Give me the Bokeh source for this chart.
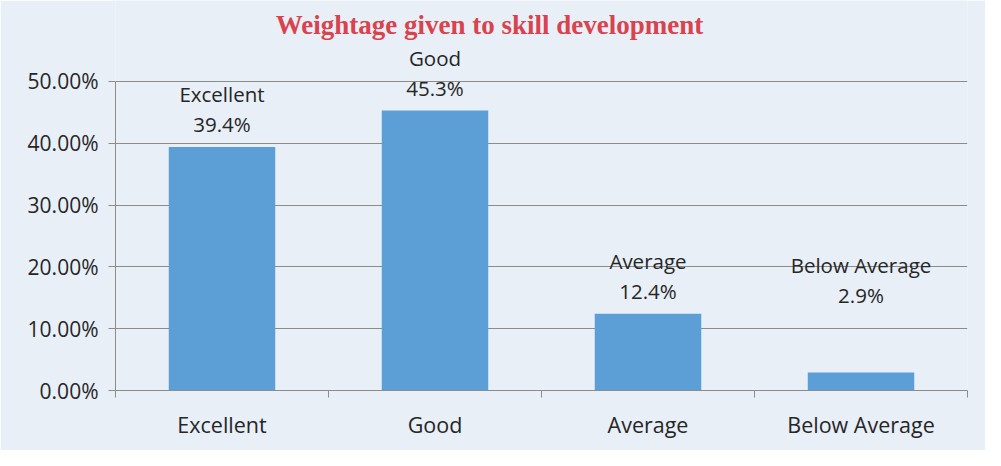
from bokeh.plotting import figure
from bokeh.models import FixedTicker, ColumnDataSource, Range1d, LabelSet, Label
from bokeh.core.properties import value
from bokeh.embed import file_html
from bokeh.resources import INLINE

title_text = "Weightage given to skill development"
categories = ["Excellent", "Good", "Average", "Below Average"]
percentages = [39.4, 45.3, 12.4, 2.9]
y_ticks = [0, 10, 20, 30, 40, 50]
y_tick_labels = ["0.00%", "10.00%", "20.00%", "30.00%", "40.00%", "50.00%"]

# style: extra upward lift of the data labels (pixels)
label_lift = [0, 0, 0, 55]

BG = "#e8eff7"
BAR = "#5b9fd6"
FONT = "Open Sans"
TXT = "#262626"

xs = [i + 0.5 for i in range(len(categories))]
src = ColumnDataSource(dict(
    x=xs, y=percentages, cat=categories,
    pct=[f"{v:.1f}%" for v in percentages],
    o1=[23 + l for l in label_lift], o2=[53 + l for l in label_lift],
))

p = figure(width=985, height=450, output_backend="svg", toolbar_location=None,
           x_range=Range1d(0, len(categories)), y_range=Range1d(0, 63.1),
           min_border_left=115, min_border_right=18, min_border_bottom=60,
           min_border_top=0,
           background_fill_color=BG, border_fill_color=BG)
p.outline_line_color = None

p.vbar(x="x", top="y", bottom=0, width=0.5, source=src, fill_color=BAR, line_color=None)

for col, off in (("pct", "o1"), ("cat", "o2")):
    ls = LabelSet(x="x", y="y", text=col, source=src, y_offset=off,
                  text_align="center", text_baseline="middle",
                  text_font=value(FONT), text_font_size=value("20.5px"),
                  text_color=value(TXT))
    p.add_layout(ls)

p.add_layout(Label(x=374, y=366, x_units="screen", y_units="screen", text=title_text,
                   text_align="center", text_baseline="middle",
                   text_font="Liberation Serif", text_font_size="27px",
                   text_font_style="bold", text_color="#d9434e"))

p.xgrid.grid_line_color = None
p.ygrid.ticker = FixedTicker(ticks=y_ticks)
p.ygrid.grid_line_color = "#8c8c8c"
p.ygrid.grid_line_width = 1

p.yaxis.ticker = FixedTicker(ticks=y_ticks)
p.yaxis.bounds = (y_ticks[0], y_ticks[-1])
p.yaxis.major_label_overrides = {t: l for t, l in zip(y_ticks, y_tick_labels)}
p.yaxis.axis_line_color = "#8c8c8c"
p.yaxis.major_tick_line_color = "#8c8c8c"
p.yaxis.major_tick_out = 7
p.yaxis.major_tick_in = 0
p.yaxis.minor_tick_line_color = None
p.yaxis.major_label_standoff = 10
p.yaxis.major_label_text_font = FONT
p.yaxis.major_label_text_font_size = "21px"
p.yaxis.major_label_text_color = TXT

p.xaxis.ticker = FixedTicker(ticks=xs, minor_ticks=list(range(len(categories) + 1)))
p.xaxis.major_label_overrides = {x: c for x, c in zip(xs, categories)}
p.xaxis.axis_line_color = "#8c8c8c"
p.xaxis.major_tick_line_color = None
p.xaxis.minor_tick_line_color = "#8c8c8c"
p.xaxis.minor_tick_out = 7
p.xaxis.minor_tick_in = 0
p.xaxis.major_label_standoff = 12
p.xaxis.major_label_text_font = FONT
p.xaxis.major_label_text_font_size = "21.5px"
p.xaxis.major_label_text_color = TXT

open("out.html", "w").write(file_html(p, INLINE))
